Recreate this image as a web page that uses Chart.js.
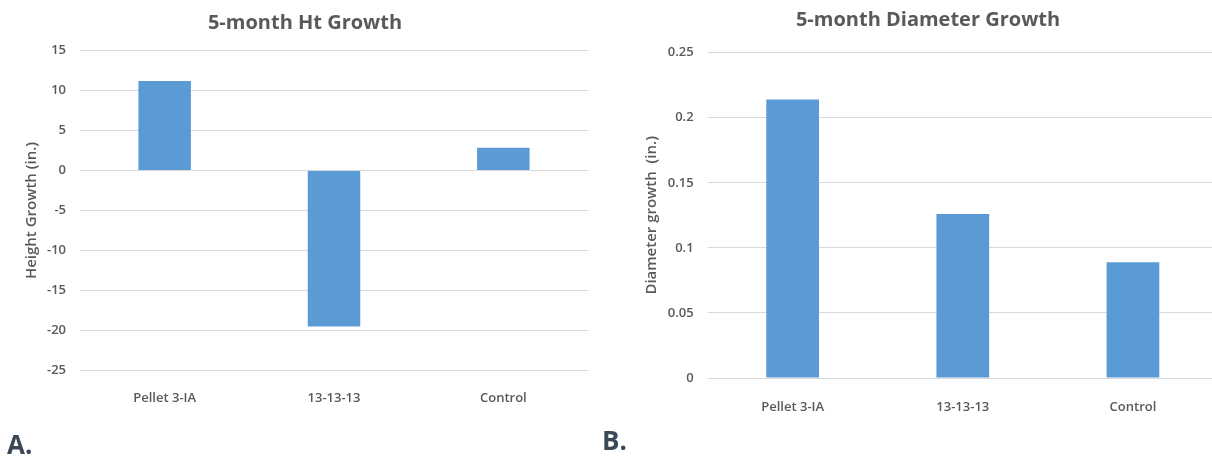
<!DOCTYPE html>
<html>
<head>
<meta charset="utf-8">
<script src="https://cdn.jsdelivr.net/npm/chart.js@4.4.1/dist/chart.umd.min.js"></script>
<style>
  html, body { margin: 0; padding: 0; background: #ffffff; }
  body { width: 1212px; height: 457px; overflow: hidden; position: relative; }
  .panel { position: absolute; top: 0; }
  .tag { position: absolute; font-family: "Open Sans", sans-serif; font-weight: 700;
         font-size: 26px; line-height: 26px; color: #3b4858; }
</style>
</head>
<body>
<div class="panel" style="left:0px;width:610px;height:430px;"><canvas id="htChart" width="610" height="430"></canvas></div>
<div class="panel" style="left:610px;width:636px;height:430px;"><canvas id="diaChart" width="636" height="430"></canvas></div>
<div class="tag" style="left:7px;top:431px;">A.</div>
<div class="tag" style="left:602px;top:427px;">B.</div>
<script>
// Treatments compared in both panels
const treatments = ['Pellet 3-IA', '13-13-13', 'Control'];

// 5-month height growth (in.)
const heightGrowth = [11.2, -19.5, 2.85];
const heightTicks = ['-25', '-20', '-15', '-10', '-5', '0', '5', '10', '15'];

// 5-month diameter growth (in.)
const diameterGrowth = [0.214, 0.126, 0.089];
const diameterTicks = ['0', '0.05', '0.1', '0.15', '0.2', '0.25'];

const FONT = '"Open Sans", sans-serif';
const TEXT = '#595959';
const GRID = '#d9d9d9';
const BAR = '#5b9bd5';

function barChart(id, cfg) {
  return new Chart(document.getElementById(id), {
    type: 'bar',
    data: {
      labels: treatments,
      datasets: [{
        data: cfg.values,
        backgroundColor: BAR,
        borderWidth: 0,
        barPercentage: 0.31,
        categoryPercentage: 1.0
      }]
    },
    options: {
      responsive: false,
      animation: false,
      layout: { padding: { left: 0, right: 0, top: 0, bottom: cfg.padBottom } },
      plugins: {
        legend: { display: false },
        tooltip: { enabled: false },
        title: {
          display: true,
          text: cfg.title,
          color: TEXT,
          font: { family: FONT, size: 20, weight: '700', lineHeight: 1.2 },
          padding: { top: cfg.titleTop, bottom: cfg.titleBottom }
        }
      },
      scales: {
        x: {
          grid: { display: false },
          border: { display: false },
          ticks: {
            color: TEXT,
            padding: cfg.xTickPad,
            font: { family: FONT, size: 13, weight: '600' }
          },
          afterFit: (s) => { s.height = 45; }
        },
        y: {
          min: cfg.min,
          max: cfg.max,
          grid: { color: GRID, lineWidth: 1, drawTicks: false },
          border: { display: false },
          ticks: {
            stepSize: cfg.step,
            color: TEXT,
            padding: 14,
            font: { family: FONT, size: 13, weight: '600' },
            callback: (v, i) => cfg.tickLabels[i]
          },
          title: {
            display: true,
            text: cfg.axisTitle,
            color: TEXT,
            font: { family: FONT, size: 15, weight: '600', lineHeight: 1.2 },
            padding: { top: cfg.axisTitlePad, bottom: 0 }
          },
          afterFit: (s) => { s.width = cfg.axisWidth; }
        },
        // empty strip on the right edge of the plot
        edge: {
          type: 'linear',
          position: 'right',
          grid: { display: false },
          border: { display: false },
          ticks: { display: false },
          afterFit: (s) => { s.width = cfg.padRight; }
        }
      }
    }
  });
}

barChart('htChart', {
  values: heightGrowth,
  title: '5-month Ht Growth',
  axisTitle: 'Height Growth (in.)',
  tickLabels: heightTicks,
  min: -25, max: 15, step: 5,
  axisWidth: 80, axisTitlePad: 22.7,
  padRight: 22, padBottom: 14.5,
  titleTop: 11, titleBottom: 15.5,
  xTickPad: 11.7
});

barChart('diaChart', {
  values: diameterGrowth,
  title: '5-month Diameter Growth',
  axisTitle: 'Diameter growth  (in.)',
  tickLabels: diameterTicks,
  min: 0, max: 0.25, step: 0.05,
  axisWidth: 97.6, axisTitlePad: 32.7,
  padRight: 28, padBottom: 7,
  titleTop: 8.3, titleBottom: 20.4,
  xTickPad: 13.2
});
</script>
</body>
</html>
